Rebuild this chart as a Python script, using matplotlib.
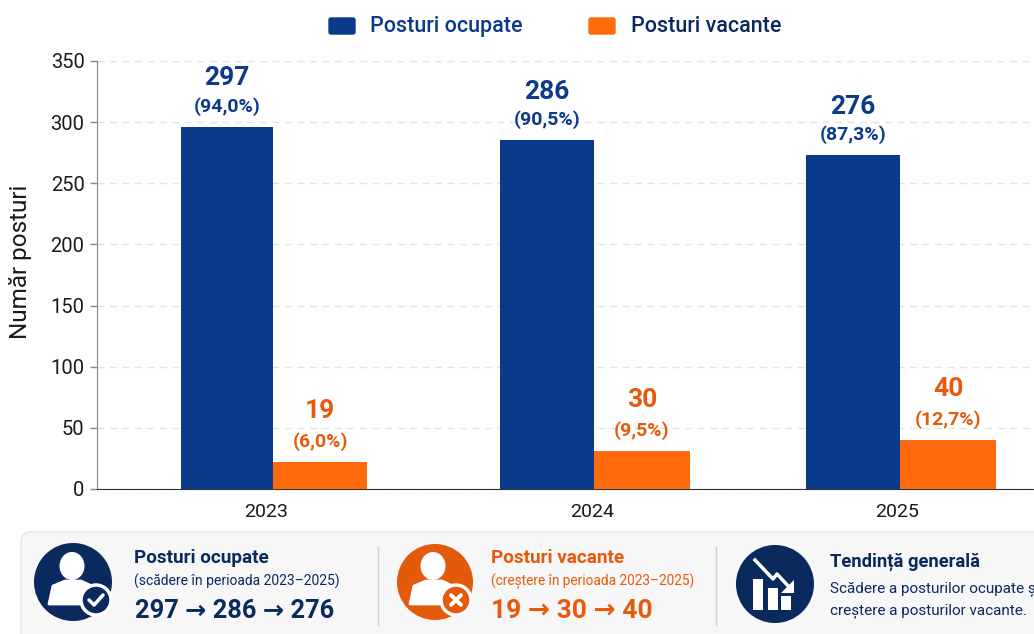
import matplotlib
matplotlib.use('Agg')
import matplotlib.pyplot as plt
from matplotlib.patches import Circle, FancyBboxPatch, Polygon, Rectangle, Ellipse

plt.rcParams['font.family'] = ['Roboto', 'DejaVu Sans']

BLUE = '#0b3a8a'
NAVY = '#0a2a5e'
ORANGE = '#ff6a0c'
ORANGE_TXT = '#e8590c'
ORANGE_ICON = '#e35a0b'

years = ['2023', '2024', '2025']
occupied = [296, 285, 273]
vacant = [22, 31, 40]
occupied_labels = ['297', '286', '276']
vacant_labels = ['19', '30', '40']
occupied_pct = ['(94,0%)', '(90,5%)', '(87,3%)']
vacant_pct = ['(6,0%)', '(9,5%)', '(12,7%)']
y_ticks = [0, 50, 100, 150, 200, 250, 300, 350]

W, H = 1034, 634
fig = plt.figure(figsize=(W / 100, H / 100), dpi=100)

# axes placed in pixels, x scale is pixels too because the groups are unevenly spaced
ax = fig.add_axes([97 / W, 1 - 489 / H, (W - 97) / W, 428 / H])
ax.set_xlim(97, W)
ax.set_ylim(0, 350)

group_x = [273, 594, 900]
tick_x = [266, 592, 897]
occ_w = [92, 94, 94]
vac_w = [94, 96, 96]

for i in range(3):
    xo = group_x[i] - occ_w[i] / 2
    xv = group_x[i] + vac_w[i] / 2
    ax.bar(xo, occupied[i], occ_w[i], color=BLUE, zorder=3)
    ax.bar(xv, vacant[i], vac_w[i], color=ORANGE, zorder=3)
    ax.annotate(occupied_labels[i], (xo, occupied[i]), xytext=(0, 35),
                textcoords='offset points', ha='center', va='center',
                fontsize=19, fontweight='bold', color=BLUE)
    ax.annotate(occupied_pct[i], (xo, occupied[i]), xytext=(0, 15),
                textcoords='offset points', ha='center', va='center',
                fontsize=14, fontweight='bold', color=BLUE)
    ax.annotate(vacant_labels[i], (xv, vacant[i]), xytext=(0, 37),
                textcoords='offset points', ha='center', va='center',
                fontsize=19, fontweight='bold', color=ORANGE_TXT)
    ax.annotate(vacant_pct[i], (xv, vacant[i]), xytext=(0, 15),
                textcoords='offset points', ha='center', va='center',
                fontsize=14, fontweight='bold', color=ORANGE_TXT)

ax.set_yticks(y_ticks)
ax.set_xticks(tick_x)
ax.set_xticklabels(years)
ax.tick_params(axis='y', labelsize=14.5, length=5, width=1, color='#888888', pad=4, labelcolor='#1a1a1a')
ax.tick_params(axis='x', labelsize=14, length=0, pad=10, labelcolor='#1a1a1a')
ax.yaxis.grid(True, color='#e4e4e4', linestyle=(0, (5, 4)), linewidth=1, zorder=0)
ax.spines['top'].set_visible(False)
ax.spines['right'].set_visible(False)
ax.spines['left'].set_color('#888888')
ax.spines['bottom'].set_color('#333333')
ax.set_ylabel('Număr posturi', fontsize=17.5, color='#1a1a1a')
ax.yaxis.set_label_coords(-65 / (W - 97), 0.53)

# overlay in pixel coordinates for legend, panel and icons
ov = fig.add_axes([0, 0, 1, 1], facecolor='none')
ov.set_xlim(0, W)
ov.set_ylim(H, 0)
ov.axis('off')

for x0, col, x_txt, name in [(328, BLUE, 370, 'Posturi ocupate'), (588, ORANGE, 631, 'Posturi vacante')]:
    ov.add_patch(FancyBboxPatch((x0 + 1, 18), 26, 16, boxstyle='round,pad=0,rounding_size=2', fc=col, ec=col, lw=1))
    ov.text(x_txt, 26.5, name, fontsize=15.5, color=BLUE if col == BLUE else NAVY, va='center', fontweight='medium')

ov.add_patch(FancyBboxPatch((21, 532), 1100, 200, boxstyle='round,pad=0,rounding_size=10',
                            fc='#f7f7f7', ec='#e6e6e6', lw=1))
for sx in (378, 716):
    ov.plot([sx, sx], [547, 625], color='#cfcfcf', lw=1)


def person(cx, cy):
    ov.add_patch(Ellipse((cx - 1, cy - 16), 25, 28, fc='white', ec='none'))
    ov.add_patch(Polygon([(cx - 24, cy + 22), (cx - 20, cy + 4), (cx - 8, cy - 1), (cx + 8, cy - 1),
                          (cx + 21, cy + 5), (cx + 22, cy + 22)], closed=True, fc='white', ec='white',
                         lw=2, joinstyle='round'))


ov.add_patch(Circle((73, 582), 39, fc=NAVY, ec='none'))
person(73, 582)
ov.add_patch(Circle((96, 600), 15, fc=NAVY, ec='white', lw=2.5))
ov.plot([89, 94, 103], [600, 605, 595], color='white', lw=2.5, solid_capstyle='round')

ov.add_patch(Circle((435, 582), 38, fc=ORANGE_ICON, ec='none'))
person(434, 582)
ov.add_patch(Circle((456, 600), 15, fc=ORANGE_ICON, ec='white', lw=2.5))
ov.plot([451, 461], [595, 605], color='white', lw=2.8, solid_capstyle='round')
ov.plot([451, 461], [605, 595], color='white', lw=2.8, solid_capstyle='round')

ov.add_patch(Circle((775, 584), 39, fc=NAVY, ec='none'))
ov.add_patch(Rectangle((753, 579), 10, 31, fc='white', ec='none'))
ov.add_patch(Rectangle((768, 588), 10, 22, fc='white', ec='none'))
ov.add_patch(Rectangle((781, 596), 10, 14, fc='white', ec='none'))
ov.plot([755, 773, 777, 791], [560, 579, 574, 589], color='white', lw=2.5)
ov.add_patch(Polygon([(794, 580), (794, 593), (781, 593)], closed=True, fc='white', ec='none'))

ov.text(134, 558, 'Posturi ocupate', fontsize=13.6, fontweight='bold', color=NAVY, va='center')
ov.text(134, 581, '(scădere în perioada 2023–2025)', fontsize=10, color=NAVY, va='center')
ov.text(135, 611, '297 → 286 → 276', fontsize=18.3, fontweight='bold', color=NAVY, va='center')
ov.text(491, 558, 'Posturi vacante', fontsize=13.6, fontweight='bold', color=ORANGE_TXT, va='center')
ov.text(491, 581, '(creștere în perioada 2023–2025)', fontsize=9.8, color=ORANGE_TXT, va='center')
ov.text(491, 611, '19 → 30 → 40', fontsize=19, fontweight='bold', color=ORANGE_TXT, va='center')
ov.text(830, 562, 'Tendință generală', fontsize=13.2, fontweight='bold', color=NAVY, va='center')
ov.text(830, 589, 'Scădere a posturilor ocupate și', fontsize=11, color=NAVY, va='center')
ov.text(830, 611, 'creștere a posturilor vacante.', fontsize=11, color=NAVY, va='center')

fig.savefig('out.png', dpi=100)
